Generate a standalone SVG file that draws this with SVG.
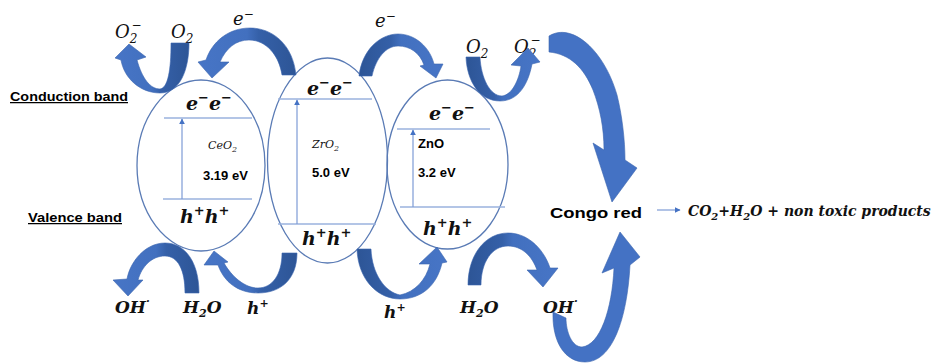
<svg xmlns="http://www.w3.org/2000/svg" width="943" height="363" viewBox="0 0 943 363">
<defs>
<linearGradient id="darkR" x1="0" y1="0" x2="1" y2="0"><stop offset="0" stop-color="#4775C6"/><stop offset="0.5" stop-color="#4270BF"/><stop offset="0.62" stop-color="#3560A8"/><stop offset="1" stop-color="#2D5596"/></linearGradient>
<linearGradient id="darkL" x1="0" y1="0" x2="1" y2="0"><stop offset="0" stop-color="#2D5596"/><stop offset="0.38" stop-color="#3560A8"/><stop offset="0.5" stop-color="#4270BF"/><stop offset="1" stop-color="#4775C6"/></linearGradient>
<marker id="ah" viewBox="0 0 10 10" refX="9" refY="5" markerWidth="5" markerHeight="5" orient="auto-start-reverse"><path d="M0,0 L10,5 L0,10 Z" fill="#4472C4"/></marker>
<style>
.ell{fill:none;stroke:#5A7BB5;stroke-width:1.3}
.lvl{stroke:#9AB2DE;stroke-width:1.3;fill:none}
.gap{stroke:#7D9BD6;stroke-width:1.2;fill:none}
.arr{stroke:#3A64AE;stroke-width:0.6}
.big{fill:#4472C4;stroke:#3A64AE;stroke-width:0.6}
.m{font-family:"DejaVu Serif","Liberation Serif",serif;font-style:italic;fill:#111}
.mb{font-family:"DejaVu Serif","Liberation Serif",serif;font-style:italic;font-weight:bold;fill:#111}
.s{font-family:"Liberation Sans",Arial,sans-serif;font-weight:bold;fill:#000}
.u{text-decoration:underline}
</style>
</defs>

<g id="labels-bands">
<text class="s u" x="10" y="101" font-size="12.5" textLength="118" lengthAdjust="spacingAndGlyphs">Conduction band</text>
<text class="s u" x="28" y="222" font-size="12.5" textLength="94" lengthAdjust="spacingAndGlyphs">Valence band</text>
</g>

<g id="CeO2">
<ellipse class="ell" cx="201" cy="165.5" rx="64" ry="85.5"/>
<line class="lvl" x1="164" y1="118" x2="252" y2="118"/>
<line class="lvl" x1="163" y1="199" x2="252" y2="199"/>
<text class="mb" x="186" y="110" font-size="19">e<tspan dy="-8" font-size="13">−</tspan><tspan dy="8">e</tspan><tspan dy="-8" font-size="13">−</tspan></text>
<text class="m" x="208" y="149" font-size="11">CeO<tspan dy="3" font-size="8">2</tspan></text>
<text class="s" x="203" y="180" font-size="13">3.19 eV</text>
<text class="mb" x="180" y="223" font-size="19">h<tspan dy="-8" font-size="13">+</tspan><tspan dy="8">h</tspan><tspan dy="-8" font-size="13">+</tspan></text>
</g>

<g id="ZrO2">
<ellipse class="ell" cx="327.5" cy="160.5" rx="60" ry="102.5"/>
<line class="lvl" x1="278" y1="99" x2="372" y2="99"/>
<line class="lvl" x1="278" y1="224" x2="376" y2="224"/>
<text class="mb" x="307" y="95" font-size="19">e<tspan dy="-8" font-size="13">−</tspan><tspan dy="8">e</tspan><tspan dy="-8" font-size="13">−</tspan></text>
<text class="m" x="312" y="148" font-size="11">ZrO<tspan dy="3" font-size="8">2</tspan></text>
<text class="s" x="312" y="177" font-size="13">5.0 eV</text>
<text class="mb" x="302" y="245" font-size="19">h<tspan dy="-8" font-size="13">+</tspan><tspan dy="8">h</tspan><tspan dy="-8" font-size="13">+</tspan></text>
</g>

<g id="ZnO">
<ellipse class="ell" cx="447.5" cy="164.5" rx="60.5" ry="84.5"/>
<line class="lvl" x1="397" y1="129" x2="490" y2="129"/>
<line class="lvl" x1="400" y1="207" x2="505" y2="207"/>
<text class="mb" x="429" y="120" font-size="19">e<tspan dy="-8" font-size="13">−</tspan><tspan dy="8">e</tspan><tspan dy="-8" font-size="13">−</tspan></text>
<text class="s" x="418" y="148" font-size="13">ZnO</text>
<text class="s" x="418" y="177" font-size="13">3.2 eV</text>
<text class="mb" x="423" y="235" font-size="19">h<tspan dy="-8" font-size="13">+</tspan><tspan dy="8">h</tspan><tspan dy="-8" font-size="13">+</tspan></text>
</g>

<g id="species">
<text class="m" x="115" y="38" font-size="18">O<tspan dy="5" font-size="12">2</tspan><tspan dx="-6" dy="-14" font-size="12">−</tspan></text>
<text class="m" x="171" y="38" font-size="18">O<tspan dy="5" font-size="12">2</tspan></text>
<text class="m" x="233" y="25" font-size="18">e<tspan dy="-7" font-size="12">−</tspan></text>
<text class="m" x="375" y="27" font-size="18">e<tspan dy="-7" font-size="12">−</tspan></text>
<text class="m" x="466" y="53" font-size="18">O<tspan dy="5" font-size="12">2</tspan></text>
<text class="m" x="514" y="53" font-size="18">O<tspan dy="5" font-size="12">2</tspan><tspan dx="-6" dy="-14" font-size="12">−</tspan></text>
<text class="mb" x="115" y="313" font-size="17">OH<tspan dy="-8" font-size="11">·</tspan></text>
<text class="mb" x="183" y="313" font-size="17">H<tspan dy="4" font-size="11">2</tspan><tspan dy="-4">O</tspan></text>
<text class="mb" x="247" y="314" font-size="17">h<tspan dy="-7" font-size="11">+</tspan></text>
<text class="mb" x="384" y="318" font-size="17">h<tspan dy="-7" font-size="11">+</tspan></text>
<text class="mb" x="460" y="313" font-size="17">H<tspan dy="4" font-size="11">2</tspan><tspan dy="-4">O</tspan></text>
<text class="mb" x="543" y="313" font-size="17">OH<tspan dy="-8" font-size="11">·</tspan></text>
</g>

<g id="CongoRed">
<text class="s" x="550" y="218" font-size="15" textLength="92" lengthAdjust="spacingAndGlyphs">Congo red</text>
</g>
<g id="products">
<text class="mb" x="688" y="216" font-size="14">CO<tspan dy="4" font-size="10">2</tspan><tspan dy="-4">+H</tspan><tspan dy="4" font-size="10">2</tspan><tspan dy="-4">O + non toxic products</tspan></text>
</g>

<g id="connectors">
<line class="gap" x1="182" y1="199" x2="182" y2="119" marker-end="url(#ah)"/>
<line class="gap" x1="297" y1="224" x2="297" y2="100" marker-end="url(#ah)"/>
<line class="gap" x1="413" y1="207" x2="413" y2="130" marker-end="url(#ah)"/>
<line class="gap" x1="657" y1="210" x2="680" y2="210" marker-end="url(#ah)"/>
<path class="arr" fill="url(#darkR)" d="M171,43 L189,43 C189,70 180,93 160,93 C140,93 124,78 121,60 L115,58 L129,44 L146,57 L137,60 C142,78 150,89 160,89 C168,88 171,70 171,43 Z"/>
<path class="arr" fill="url(#darkR)" d="M296,75 C293,45 273,28 250,28 C228,28 212,42 206,60 L198,62 L212,78 L229,62 L220,62 C226,48 236,40 249,40 C266,40 279,55 282,75 Z"/>
<path class="arr" fill="url(#darkL)" d="M359,76 C362,50 380,34 398,34 C416,34 430,48 434,64 L443,64 L436,78 L420,66 L424,65 C420,53 410,46 398,46 C386,46 376,58 372,76 Z"/>
<path class="arr" fill="url(#darkL)" d="M466,57 L480,57 C481,78 490,96 502,96 C512,95 519,80 521,66 L511,65 L528,48 L540,62 L532,64 C528,85 518,101 500,101 C480,101 467,82 466,57 Z"/>
<path class="big" d="M549,52 L549,36 C572,22 604,50 617,95 C622,115 625,140 625,160 L637,168 L612,202 L593,143 L604,150 C604,128 600,108 593,90 C584,68 570,54 549,52 Z"/>
<path class="arr" fill="url(#darkR)" d="M199,293 C199,262 185,243 165,243 C145,243 130,262 127,279 L113,280 L128,296 L143,280 L138,280 C142,266 152,256 165,256 C178,256 185,270 185,293 Z"/>
<path class="arr" fill="url(#darkR)" d="M282,253 L297,253 C297,278 282,293 258,293 C238,293 224,282 218,265 L204,265 L214,251 L228,262 L224,263 C232,277 245,288 258,288 C272,288 282,275 282,253 Z"/>
<path class="arr" fill="url(#darkL)" d="M357,249 L371,249 C372,274 385,292 400,295 C415,292 426,280 430,264 L419,264 L437,247 L447,262 L442,263 C437,285 422,299 400,299 C378,299 358,280 357,249 Z"/>
<path class="arr" fill="url(#darkL)" d="M468,285 C468,255 485,233 508,233 C530,233 545,252 550,268 L558,268 L543,287 L527,270 L537,270 C532,256 522,246 508,246 C492,246 481,262 481,285 Z"/>
<path class="big" d="M553,312 C552,342 565,362 585,362 C612,362 627,320 630,265 L640,257 L620,232 L602,273 L614,268 C612,310 600,345 582,347 C572,347 566,332 566,318 Z"/>
</g>
</svg>
